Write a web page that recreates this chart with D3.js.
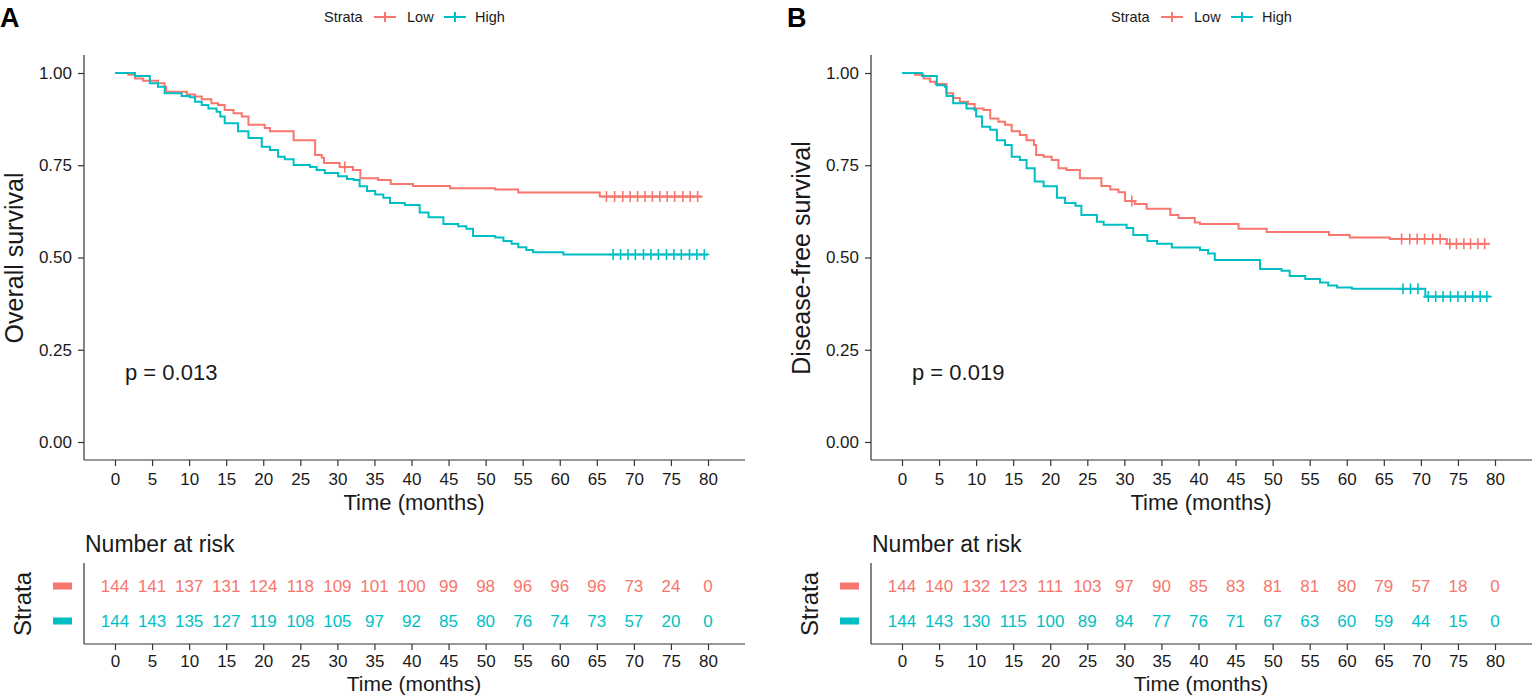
<!DOCTYPE html>
<html>
<head>
<meta charset="utf-8">
<script src="https://cdn.jsdelivr.net/npm/d3@7"></script>
<style>
body { margin: 0; background: #fff; }
svg { display: block; font-family: "Liberation Sans", Arial, Helvetica, sans-serif; }
</style>
</head>
<body>
<svg id="chart" width="1534" height="697"></svg>
<script>
const lowColor = "#F8766D";
const highColor = "#00BFC4";

const timeTicks = [0, 5, 10, 15, 20, 25, 30, 35, 40, 45, 50, 55, 60, 65, 70, 75, 80];
const survTicks = [0, 0.25, 0.5, 0.75, 1];

// Panel A - overall survival, step points
const osLowTime = [0, 1.8, 2.7, 3.8, 5.8, 6.7, 6.9, 9.7, 10.8, 11.7, 13.0, 13.9, 14.8, 16.0, 17.1, 18.0, 20.2, 20.9,
  24.1, 27.0, 27.9, 28.2, 30.3, 32.1, 33.1, 35.5, 37.2, 40.2, 45.2, 51.3, 54.4, 65.4];
const osLowSurv = [1, 0.995, 0.985, 0.979, 0.972, 0.963, 0.949, 0.942, 0.936, 0.929, 0.918, 0.913, 0.900, 0.891, 0.882, 0.860, 0.851, 0.842,
  0.818, 0.778, 0.770, 0.756, 0.745, 0.737, 0.715, 0.710, 0.699, 0.694, 0.688, 0.684, 0.676, 0.665];
const osLowCensor = [31.0, 66.3, 67.4, 68.5, 69.5, 70.5, 71.5, 72.5, 73.5, 74.5, 75.5, 76.6, 77.6, 78.6];
const osLowEnd = 79.1;

const osHighTime = [0, 2.7, 4.7, 5.8, 6.7, 9.0, 10.1, 10.8, 11.7, 12.6, 13.7, 14.2, 14.8, 16.6, 18.0, 19.8, 20.9, 22.0, 22.9,
  24.1, 26.3, 27.2, 28.3, 30.1, 31.3, 32.2, 33.0, 34.0, 35.1, 36.2, 37.1, 39.1, 41.1, 42.3, 44.3, 46.3, 47.4, 48.3,
  51.3, 52.4, 53.5, 54.4, 55.5, 56.4, 60.5];
const osHighSurv = [1, 0.992, 0.972, 0.963, 0.945, 0.938, 0.934, 0.922, 0.913, 0.904, 0.895, 0.882, 0.864, 0.842, 0.824, 0.800, 0.791, 0.773, 0.766,
  0.751, 0.745, 0.737, 0.729, 0.720, 0.713, 0.710, 0.693, 0.680, 0.671, 0.662, 0.648, 0.642, 0.622, 0.609, 0.591, 0.585, 0.578, 0.558,
  0.554, 0.545, 0.537, 0.528, 0.520, 0.514, 0.508];
const osHighCensor = [67.2, 68.2, 69.2, 70.2, 71.3, 72.3, 73.3, 74.4, 75.4, 76.4, 77.5, 78.5, 79.5];
const osHighEnd = 80;

const osLowRisk = [144, 141, 137, 131, 124, 118, 109, 101, 100, 99, 98, 96, 96, 96, 73, 24, 0];
const osHighRisk = [144, 143, 135, 127, 119, 108, 105, 97, 92, 85, 80, 76, 74, 73, 57, 20, 0];

// Panel B - disease-free survival
const dfsLowTime = [0, 1.75, 2.9, 3.8, 4.5, 6.0, 6.9, 7.8, 8.9, 9.8, 11.0, 11.9, 13.0, 13.9, 14.8, 15.9, 16.8, 17.8, 18.1,
  19.1, 20.2, 21.1, 22.2, 24.0, 26.9, 28.1, 29.2, 30.1, 31.4, 33.0, 36.2, 37.3, 39.5, 40.2, 45.4, 49.2, 57.6, 60.4, 65.8, 73.5];
const dfsLowSurv = [1, 0.995, 0.985, 0.976, 0.970, 0.945, 0.932, 0.922, 0.916, 0.904, 0.900, 0.877, 0.868, 0.860, 0.842, 0.832, 0.818, 0.805, 0.778,
  0.773, 0.764, 0.742, 0.737, 0.715, 0.694, 0.684, 0.677, 0.653, 0.645, 0.632, 0.615, 0.607, 0.595, 0.591, 0.578, 0.569, 0.561, 0.554, 0.550, 0.537];
const dfsLowCensor = [31.0, 67.4, 68.5, 69.5, 70.5, 71.6, 72.6, 73.9, 74.8, 75.8, 76.7, 77.7, 78.6];
const dfsLowEnd = 79.3;

const dfsHighTime = [0, 2.7, 4.7, 5.8, 6.0, 6.9, 8.7, 9.8, 10.0, 10.8, 11.9, 12.8, 13.9, 14.8, 15.9, 16.8, 17.9, 19.1, 20.9,
  22.0, 23.4, 24.2, 26.3, 27.2, 30.3, 31.2, 33.1, 34.4, 36.4, 40.2, 41.3, 42.2, 48.3, 51.2, 52.3, 54.4, 56.4, 57.5, 58.7, 60.7, 70.6];
const dfsHighSurv = [1, 0.992, 0.967, 0.963, 0.938, 0.918, 0.904, 0.900, 0.882, 0.854, 0.846, 0.818, 0.805, 0.773, 0.764, 0.742, 0.706, 0.693, 0.662,
  0.648, 0.640, 0.615, 0.597, 0.589, 0.580, 0.561, 0.545, 0.537, 0.527, 0.520, 0.511, 0.493, 0.469, 0.464, 0.450, 0.442, 0.432, 0.424, 0.419, 0.415, 0.394];
const dfsHighCensor = [67.6, 68.6, 69.6, 71.0, 72.0, 73.0, 74.0, 75.0, 76.0, 77.0, 78.0, 78.9];
const dfsHighEnd = 79.3;

const dfsLowRisk = [144, 140, 132, 123, 111, 103, 97, 90, 85, 83, 81, 81, 80, 79, 57, 18, 0];
const dfsHighRisk = [144, 143, 130, 115, 100, 89, 84, 77, 76, 71, 67, 63, 60, 59, 44, 15, 0];

const panels = [
  {
    letter: "A", dx: 0, yTitle: "Overall survival", pText: "p = 0.013",
    series: [
      { color: lowColor, time: osLowTime, surv: osLowSurv, censor: osLowCensor, end: osLowEnd, risk: osLowRisk },
      { color: highColor, time: osHighTime, surv: osHighSurv, censor: osHighCensor, end: osHighEnd, risk: osHighRisk }
    ]
  },
  {
    letter: "B", dx: 787, yTitle: "Disease-free survival", pText: "p = 0.019",
    series: [
      { color: lowColor, time: dfsLowTime, surv: dfsLowSurv, censor: dfsLowCensor, end: dfsLowEnd, risk: dfsLowRisk },
      { color: highColor, time: dfsHighTime, surv: dfsHighSurv, censor: dfsHighCensor, end: dfsHighEnd, risk: dfsHighRisk }
    ]
  }
];

const axisColor = "#333";
const textColor = "#1a1a1a";

function legendSymbol(g, cx, cy, color) {
  g.append("path")
    .attr("d", `M${cx - 11},${cy}H${cx + 11}M${cx},${cy - 5}V${cy + 5}`)
    .attr("stroke", color)
    .attr("stroke-width", 2)
    .attr("fill", "none");
}

function bottomAxis(g, x, yPos, dx, opts) {
  g.append("line")
    .attr("x1", 84 + dx).attr("x2", 745 + dx)
    .attr("y1", yPos).attr("y2", yPos)
    .attr("stroke", axisColor).attr("stroke-width", 1.2);

  const ax = g.append("g").attr("transform", `translate(0,${yPos})`)
    .call(d3.axisBottom(x).tickValues(timeTicks).tickSize(6).tickPadding(opts.pad));
  ax.select(".domain").remove();
  ax.selectAll(".tick line").attr("stroke", axisColor).attr("stroke-width", 1.2);
  ax.selectAll(".tick text").attr("fill", textColor).attr("font-size", 17)
    .attr("font-family", "Liberation Sans, Arial, sans-serif");

  g.append("text")
    .attr("x", 414 + dx).attr("y", yPos + opts.title)
    .attr("text-anchor", "middle")
    .attr("font-size", opts.size)
    .attr("fill", textColor)
    .text("Time (months)");
}

function drawPanel(svg, p) {
  const dx = p.dx;
  const x = d3.scaleLinear().domain([0, 80]).range([115 + dx, 708 + dx]);
  const y = d3.scaleLinear().domain([0, 1]).range([442, 73]);
  const g = svg.append("g");

  // panel letter
  g.append("text")
    .attr("x", dx + 0).attr("y", 27)
    .attr("font-size", 27).attr("font-weight", "bold")
    .attr("fill", "#000")
    .text(p.letter);

  // legend
  const leg = g.append("g").attr("font-size", 14.5).attr("fill", textColor);
  leg.append("text").attr("x", 324 + dx).attr("y", 22).text("Strata");
  legendSymbol(leg, 385 + dx, 17, lowColor);
  leg.append("text").attr("x", 407 + dx).attr("y", 22).text("Low");
  legendSymbol(leg, 455 + dx, 17, highColor);
  leg.append("text").attr("x", 475 + dx).attr("y", 22).text("High");

  // y axis
  g.append("line")
    .attr("x1", 84 + dx).attr("x2", 84 + dx)
    .attr("y1", 55).attr("y2", 460)
    .attr("stroke", axisColor).attr("stroke-width", 1.2);
  const ay = g.append("g").attr("transform", `translate(${84 + dx},0)`)
    .call(d3.axisLeft(y).tickValues(survTicks).tickFormat(d3.format(".2f")).tickSize(6).tickPadding(6));
  ay.select(".domain").remove();
  ay.selectAll(".tick line").attr("stroke", axisColor).attr("stroke-width", 1.2);
  ay.selectAll(".tick text").attr("fill", textColor).attr("font-size", 17)
    .attr("font-family", "Liberation Sans, Arial, sans-serif");

  g.append("text")
    .attr("transform", `translate(${23 + dx},258) rotate(-90)`)
    .attr("text-anchor", "middle")
    .attr("font-size", 25)
    .attr("fill", textColor)
    .text(p.yTitle);

  bottomAxis(g, x, 460, dx, { pad: 7, title: 50, size: 22 });

  // curves
  const line = d3.line()
    .x(d => x(d[0]))
    .y(d => y(d[1]))
    .curve(d3.curveStepAfter);

  p.series.forEach(s => {
    const pts = s.time.map((t, i) => [t, s.surv[i]]);
    pts.push([s.end, s.surv[s.surv.length - 1]]);
    g.append("path")
      .datum(pts)
      .attr("d", line)
      .attr("fill", "none")
      .attr("stroke", s.color)
      .attr("stroke-width", 2);

    const survAt = t => s.surv[d3.bisectRight(s.time, t) - 1];
    g.append("g").selectAll("path")
      .data(s.censor)
      .join("path")
      .attr("d", c => {
        const cx = x(c), cy = y(survAt(c));
        return `M${cx - 5},${cy}H${cx + 5}M${cx},${cy - 5.5}V${cy + 5.5}`;
      })
      .attr("stroke", s.color)
      .attr("stroke-width", 1.6)
      .attr("fill", "none");
  });

  g.append("text")
    .attr("x", 125 + dx).attr("y", 380)
    .attr("font-size", 22)
    .attr("fill", textColor)
    .text(p.pText);

  // risk table
  g.append("text")
    .attr("x", 85 + dx).attr("y", 552)
    .attr("font-size", 23)
    .attr("fill", textColor)
    .text("Number at risk");

  g.append("line")
    .attr("x1", 84 + dx).attr("x2", 84 + dx)
    .attr("y1", 563).attr("y2", 644)
    .attr("stroke", axisColor).attr("stroke-width", 1.2);

  const rowY = [586, 621];
  p.series.forEach((s, i) => {
    g.append("rect")
      .attr("x", 53 + dx).attr("y", rowY[i] - 3.5)
      .attr("width", 19).attr("height", 7)
      .attr("fill", s.color);
    g.append("g").selectAll("text")
      .data(s.risk)
      .join("text")
      .attr("x", (d, j) => x(timeTicks[j]))
      .attr("y", rowY[i])
      .attr("dy", "0.35em")
      .attr("text-anchor", "middle")
      .attr("font-size", 17)
      .attr("fill", s.color)
      .text(d => d);
  });

  g.append("text")
    .attr("transform", `translate(${31 + dx},604) rotate(-90)`)
    .attr("text-anchor", "middle")
    .attr("font-size", 24)
    .attr("fill", textColor)
    .text("Strata");

  bottomAxis(g, x, 644, dx, { pad: 5, title: 47, size: 21 });
}

const svg = d3.select("#chart");
panels.forEach(p => drawPanel(svg, p));
</script>
</body>
</html>
